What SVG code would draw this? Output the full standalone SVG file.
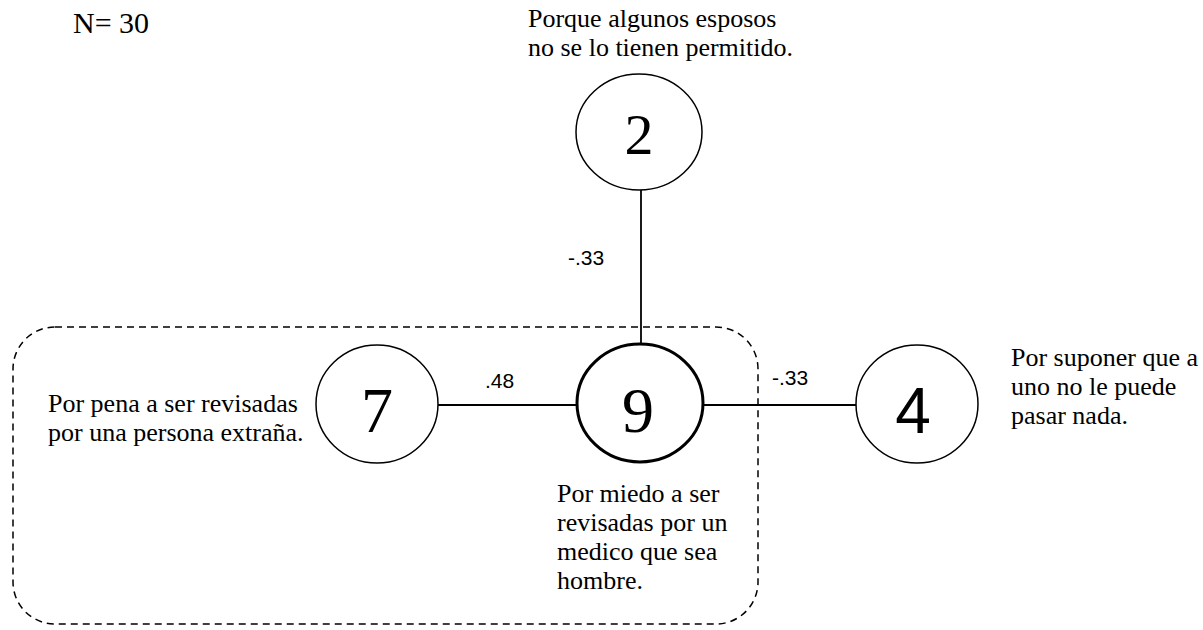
<svg xmlns="http://www.w3.org/2000/svg" width="1203" height="630" viewBox="0 0 1203 630">
<style>
.t{font-family:"Liberation Serif","Times New Roman",serif;font-size:26px;fill:#000}
.num{font-family:"Liberation Serif","Times New Roman",serif;font-size:64px;fill:#000;text-anchor:middle}
.nums{font-family:"Liberation Sans",Arial,sans-serif;font-size:64px;fill:#000;text-anchor:middle}
.lab{font-family:"Liberation Sans",Arial,sans-serif;font-size:21px;fill:#000}
.c{fill:#fff;stroke:#000;stroke-width:1.5}
.cb{fill:#fff;stroke:#000;stroke-width:3}
.e{stroke:#000;stroke-width:1.8;fill:none}
.box{fill:none;stroke:#000;stroke-width:1.5;stroke-dasharray:7,5}
</style>
<rect width="1203" height="630" fill="#fff"/>
<rect class="box" x="13" y="327" width="745" height="297" rx="42" ry="42"/>
<text class="t" x="73" y="33" style="font-size:30px">N= 30</text>
<g id="connectors">
<line class="e" x1="641" y1="190" x2="641" y2="344"/>
<line class="e" x1="438" y1="405" x2="577" y2="405"/>
<line class="e" x1="703" y1="405" x2="857" y2="405"/>
<text class="lab" x="568" y="265">-.33</text>
<text class="lab" x="485" y="388">.48</text>
<text class="lab" x="772" y="385">-.33</text>
</g>
<g id="node2">
<ellipse class="c" cx="639" cy="132" rx="63" ry="58"/>
<text class="num" x="639" y="154" style="font-size:58px">2</text>
<text class="t" x="528" y="27">Porque algunos esposos</text>
<text class="t" x="528" y="56">no se lo tienen permitido.</text>
</g>
<g id="node7">
<ellipse class="c" cx="377" cy="404" rx="61" ry="59"/>
<text class="num" x="377" y="432">7</text>
<text class="t" x="48" y="412">Por pena a ser revisadas</text>
<text class="t" x="48" y="441">por una persona extraña.</text>
</g>
<g id="node9">
<ellipse class="cb" cx="640" cy="403" rx="63" ry="59"/>
<text class="num" x="638" y="432">9</text>
<text class="t" x="557" y="502">Por miedo a ser</text>
<text class="t" x="557" y="531">revisadas por un</text>
<text class="t" x="557" y="560">medico que sea</text>
<text class="t" x="557" y="589">hombre.</text>
</g>
<g id="node4">
<ellipse class="c" cx="917" cy="404" rx="61" ry="59"/>
<text class="nums" x="913" y="433">4</text>
<text class="t" x="1011" y="366">Por suponer que a</text>
<text class="t" x="1011" y="395">uno no le puede</text>
<text class="t" x="1011" y="424">pasar nada.</text>
</g>
</svg>
